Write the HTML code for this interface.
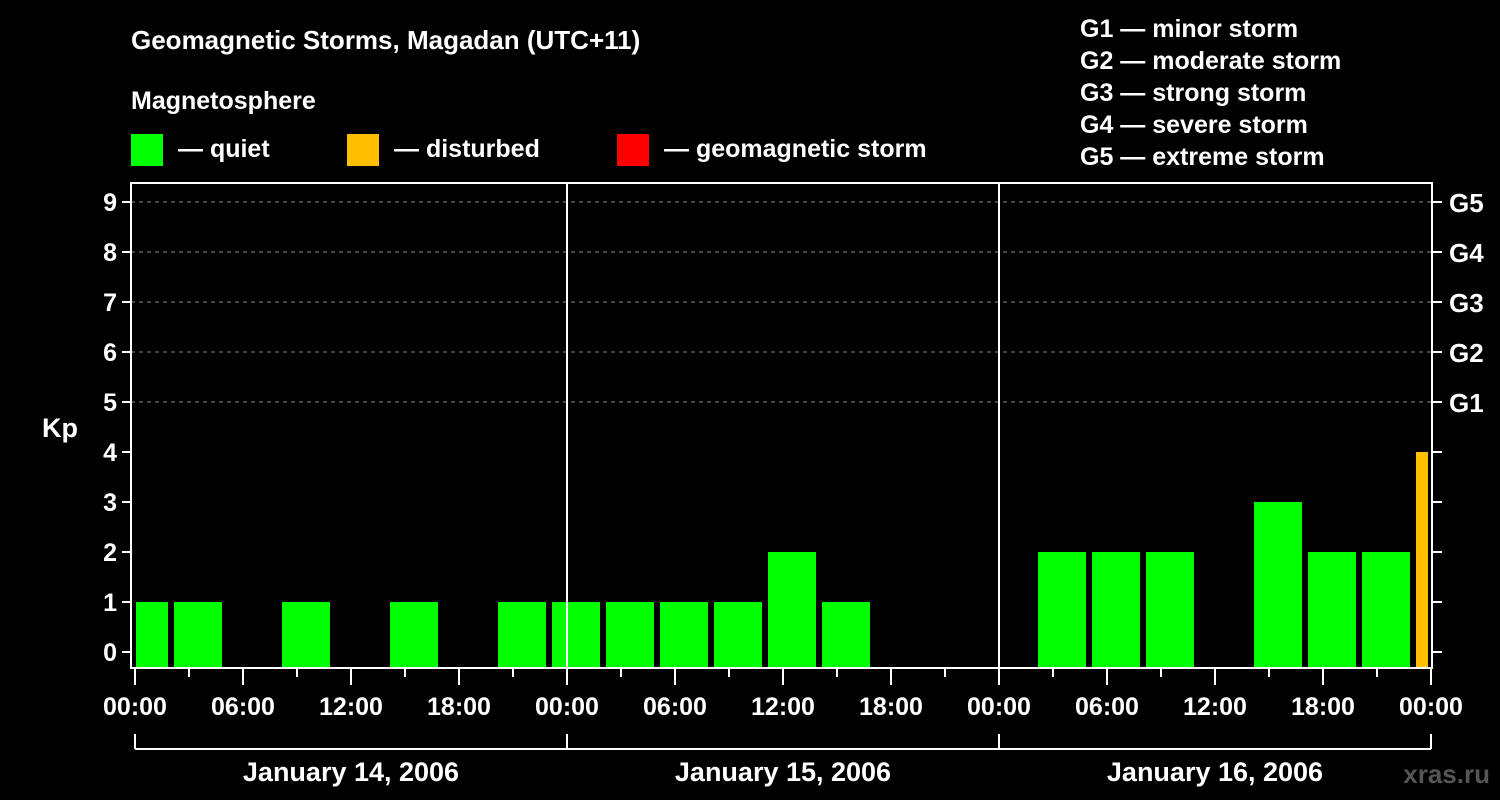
<!DOCTYPE html>
<html><head><meta charset="utf-8"><style>
html,body{margin:0;padding:0;background:#000;}
svg{display:block;font-family:"Liberation Sans",Arial,sans-serif;font-weight:bold;}
</style></head><body>
<svg id="chart" width="1500" height="800" viewBox="0 0 1500 800">
<rect width="1500" height="800" fill="#000"/>
<text x="131" y="49" fill="#fff" font-size="26">Geomagnetic Storms, Magadan (UTC+11)</text>
<text x="131" y="109" fill="#fff" font-size="25">Magnetosphere</text>
<g><rect x="131" y="134" width="32" height="32" fill="#00ff00"/><text x="178" y="157" fill="#fff" font-size="25">— quiet</text></g>
<g><rect x="347" y="134" width="32" height="32" fill="#ffbf00"/><text x="394" y="157" fill="#fff" font-size="25">— disturbed</text></g>
<g><rect x="617" y="134" width="32" height="32" fill="#ff0000"/><text x="664" y="157" fill="#fff" font-size="25">— geomagnetic storm</text></g>
<g fill="#fff" font-size="25">
<text x="1080" y="37">G1 — minor storm</text>
<text x="1080" y="69">G2 — moderate storm</text>
<text x="1080" y="101">G3 — strong storm</text>
<text x="1080" y="133">G4 — severe storm</text>
<text x="1080" y="165">G5 — extreme storm</text>
</g>
<text x="42" y="437" fill="#fff" font-size="27">Kp</text>
<text x="1490" y="783" fill="#555" font-size="26" text-anchor="end">xras.ru</text>
<g id="plot"></g>
</svg>
<script>
const kpValues = [1,1,null,1,null,1,null,1,1,1,1,1,2,1,null,null,null,2,2,2,null,3,2,2,4];
const yTicks = [0,1,2,3,4,5,6,7,8,9];
const gLabels = ["G1","G2","G3","G4","G5"];
const hourLabels = ["00:00","06:00","12:00","18:00"];
const dayLabels = ["January 14, 2006","January 15, 2006","January 16, 2006"];

const NS="http://www.w3.org/2000/svg";
const plot=document.getElementById('plot');
const L=131,R=1432,T=183,B=668,X0=135,PXH=18;
const xh=h=>X0+h*PXH;
const yk=v=>652-v*50;
function mk(tag,a){const e=document.createElementNS(NS,tag);for(const k in a)e.setAttribute(k,a[k]);plot.appendChild(e);return e;}
// grid
for(const v of yTicks){ if(v>=5){const g=mk('line',{x1:L,x2:R,y1:yk(v),y2:yk(v),stroke:'#888','stroke-dasharray':'4,4','stroke-width':1});

}}
// bars: slot k covers hours -1+3k .. 2+3k (offset 2h => start at -1h)
kpValues.forEach((v,i)=>{ if(v==null)return;
 let s=xh(-1+3*i)+3, e=xh(2+3*i)-3;
 s=Math.max(s,L+5); e=Math.min(e,R-4);
 const c=v>=5?'#ff0000':(v>=4?'#ffbf00':'#00ff00');
 const r=mk('rect',{x:s,y:yk(v),width:e-s,height:B-yk(v),fill:c});
 
 
});
// day separators
for(let d=1;d<3;d++){const l=mk('line',{x1:xh(24*d),x2:xh(24*d),y1:T,y2:B,stroke:'#fff','stroke-width':2});

}
// frame
const f=mk('rect',{x:L,y:T,width:R-L,height:B-T,fill:'none',stroke:'#fff','stroke-width':2});


// y ticks + labels
for(const v of yTicks){
 mk('line',{x1:L-9,x2:L,y1:yk(v),y2:yk(v),stroke:'#fff','stroke-width':2});
 mk('line',{x1:R,x2:R+10,y1:yk(v),y2:yk(v),stroke:'#fff','stroke-width':2});
 const t=mk('text',{x:L-14,y:yk(v)+9,fill:'#fff','font-size':25,'text-anchor':'end'});t.textContent=v;
 
 
}
gLabels.forEach((g,i)=>{const t=mk('text',{x:1449,y:yk(5+i)+10,fill:'#fff','font-size':26});t.textContent=g;
 
 });
// x ticks
for(let h=0;h<=72;h+=3){const major=h%6===0;
 mk('line',{x1:xh(h),x2:xh(h),y1:B,y2:B+(major?17:9),stroke:'#fff','stroke-width':2});
 if(major){const t=mk('text',{x:xh(h),y:715,fill:'#fff','font-size':25,'text-anchor':'middle'});
  t.textContent=hourLabels[(h/6)%4];
  
  }}
// day bracket
mk('line',{x1:xh(0),x2:xh(72),y1:749,y2:749,stroke:'#fff','stroke-width':2});
for(let d=0;d<=3;d++)mk('line',{x1:xh(24*d),x2:xh(24*d),y1:734,y2:749,stroke:'#fff','stroke-width':2});
dayLabels.forEach((s,d)=>{const t=mk('text',{x:xh(24*d+12),y:781,fill:'#fff','font-size':27,'text-anchor':'middle'});t.textContent=s;
 
 });
</script>
</body></html>
